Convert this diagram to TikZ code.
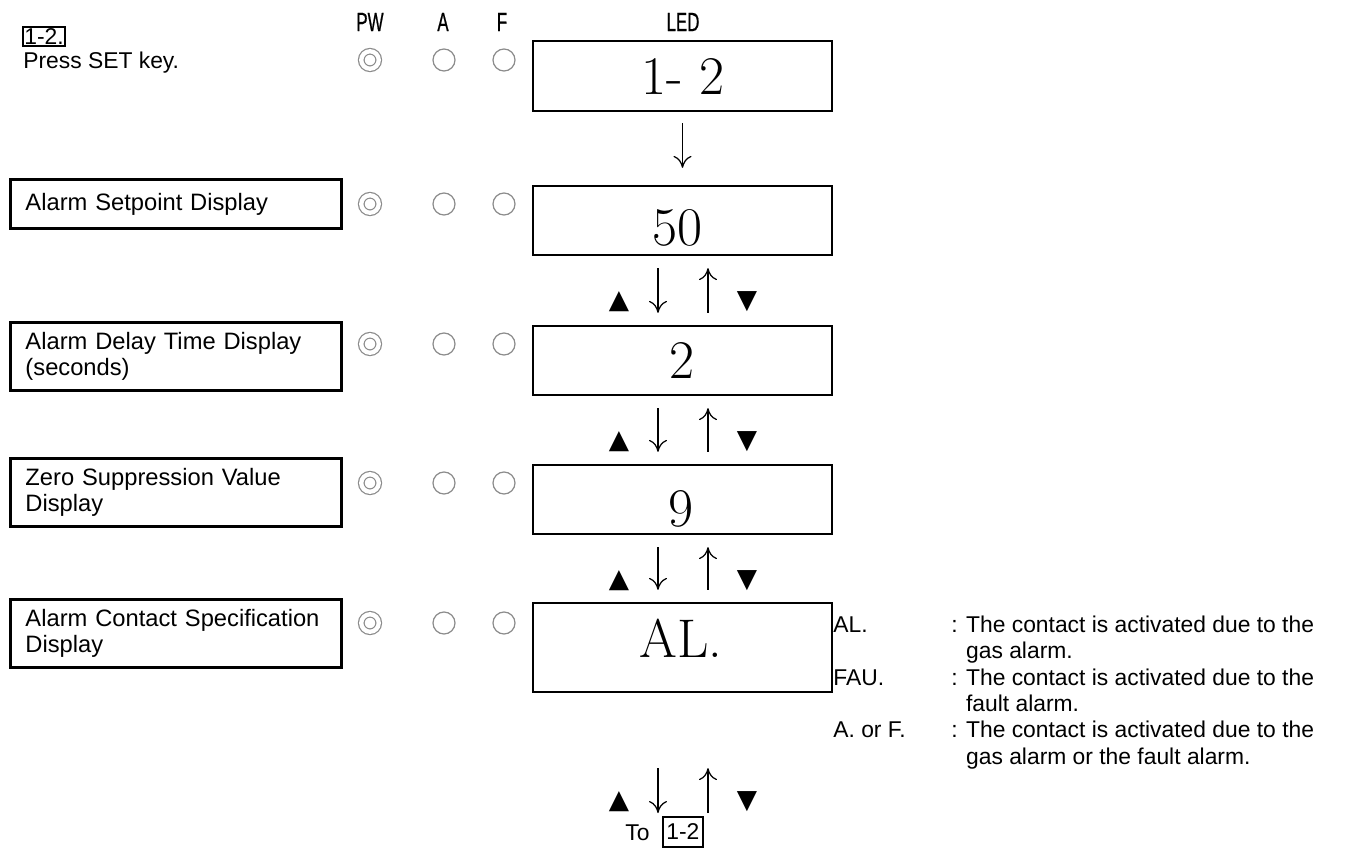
\documentclass[tikz,border=0pt]{standalone}
\usepackage{fontspec}
\newfontfamily\arialfont{Liberation Sans}
\newfontfamily\gothfont[FakeStretch=0.64, FakeBold=0.6]{Liberation Sans}
\newfontfamily\symfont{DejaVu Sans}
\usepackage{tikz}
\usetikzlibrary{positioning,arrows.meta}

\begin{document}
\begin{tikzpicture}[x=0.02cm, y=-0.02cm,
    desc/.style={draw, line width=0.06cm, anchor=north west, text width=6.02cm, inner xsep=0.3cm, inner ysep=0.19cm, align=left, minimum height=1.36cm, font=\arialfont\fontsize{13.5}{15}\selectfont},
    ledbox/.style={draw, line width=0.045cm, minimum width=5.98cm, minimum height=1.38cm, inner sep=0pt},
    digits/.style={font=\fontsize{31}{36}\selectfont, inner sep=0pt},
    lamp/.style={circle, draw=gray!90, line width=0.025cm, minimum size=0.44cm, inner sep=0pt},
    lampon/.style={circle, draw=gray!90, line width=0.024cm, double=white, double distance=0.086cm, minimum size=0.35cm, inner sep=0pt},
    head/.style={font=\gothfont\fontsize{15}{16}\selectfont, inner sep=0pt},
    txt/.style={font=\arialfont\fontsize{13}{15}\selectfont, inner sep=0pt},
    keybox/.style={draw, line width=0.035cm, font=\arialfont\fontsize{13}{15}\selectfont},
    key/.style={font=\symfont\fontsize{15}{15}\selectfont, inner sep=0pt},
    flow/.style={line width=0.025cm, -{Computer Modern Rightarrow[length=0.24cm, width=0.36cm]}, shorten <=0.24cm, shorten >=0.24cm}]
    \useasboundingbox (0,0) rectangle (1347,849);

    % Step title
    \node[keybox, inner xsep=0.03cm, inner ysep=0.03cm, anchor=north west] (stepno) at (22,26) {1-2.};
    \node[txt, anchor=base west] (press) at (23,68) {Press SET key.};

    % Column heads
    \node[head] (pwhead) at (370,22) {PW};
    \node[head] (ahead) at (443,22) {A};
    \node[head] (fhead) at (502,22) {F};
    \node[head] (ledhead) at (683,22) {LED};

    % Lamps
    \node[lampon] (pw1) at (370,60) {}; \node[lamp] (a1) at (444,60) {}; \node[lamp] (f1) at (504,60) {};
    \node[lampon] (pw2) at (370,204) {}; \node[lamp] (a2) at (444,204) {}; \node[lamp] (f2) at (504,204) {};
    \node[lampon] (pw3) at (370,344) {}; \node[lamp] (a3) at (444,344) {}; \node[lamp] (f3) at (504,344) {};
    \node[lampon] (pw4) at (370,483) {}; \node[lamp] (a4) at (444,483) {}; \node[lamp] (f4) at (504,483) {};
    \node[lampon] (pw5) at (370,623) {}; \node[lamp] (a5) at (444,623) {}; \node[lamp] (f5) at (504,623) {};

    % Descriptions
    \node[desc, minimum height=0.98cm] (setpoint) at (9,178) {Alarm Setpoint Display};
    \node[desc] (delay) at (9,321) {Alarm Delay Time Display\\(seconds)};
    \node[desc] (zero) at (9,457) {Zero Suppression Value\\Display};
    \node[desc] (contact) at (9,598) {Alarm Contact Specification\\Display};

    % LED display
    \node[ledbox, minimum height=1.4cm] (led1) at (682.5,76) {};
    \node[ledbox] (led2) at (682.5,220.5) {};
    \node[ledbox] (led3) at (682.5,360.5) {};
    \node[ledbox] (led4) at (682.5,499.5) {};
    \node[ledbox, minimum height=1.78cm] (led5) at (682.5,647.5) {};
    \node[digits] (val1) at (683,76) {1- 2};
    \node[digits] (val2) at (677,228) {50};
    \node[digits] (val3) at (682,360) {2};
    \node[digits] (val4) at (681,509) {9};
    \node[digits] (val5) at (681,638) {AL.};

    % Contact options
    \node[txt, anchor=north west] (alnote) at (833,613.5) {\begin{tabular}{@{}p{2.36cm}@{}l@{}}
        AL. & : The contact is activated due to the\\
            & \phantom{: }gas alarm.\\
        FAU. & : The contact is activated due to the\\
            & \phantom{: }fault alarm.\\
        A. or F. & : The contact is activated due to the\\
            & \phantom{: }gas alarm or the fault alarm.
    \end{tabular}};

    % Return
    \node[txt, anchor=base west] (to) at (625,840) {To};
    \node[keybox, inner xsep=0.07cm, inner ysep=0.14cm, anchor=north west] (back) at (662,816) {1-2};
    \coordinate (ret) at (682.5,813);

    % Keys
    \node[key] (up2) at (619,302) {▲}; \node[key] (dn2) at (747,302) {▼};
    \node[key] (up3) at (619,442) {▲}; \node[key] (dn3) at (747,442) {▼};
    \node[key] (up4) at (619,581) {▲}; \node[key] (dn4) at (747,581) {▼};
    \node[key] (up5) at (619,802) {▲}; \node[key] (dn5) at (747,802) {▼};

    % Arrows
    \draw[flow, shorten <=0.22cm, shorten >=0.34cm] (led1) -- (led2);
    \draw[flow] ([xshift=-0.49cm]led2.south) -- ([xshift=-0.49cm]led3.north);
    \draw[flow] ([xshift=0.51cm]led3.north) -- ([xshift=0.51cm]led2.south);
    \draw[flow] ([xshift=-0.49cm]led3.south) -- ([xshift=-0.49cm]led4.north);
    \draw[flow] ([xshift=0.51cm]led4.north) -- ([xshift=0.51cm]led3.south);
    \draw[flow] ([xshift=-0.49cm]led4.south) -- ([xshift=-0.49cm]led5.north);
    \draw[flow] ([xshift=0.51cm]led5.north) -- ([xshift=0.51cm]led4.south);
    \draw[flow, shorten <=1.5cm, shorten >=0pt] ([xshift=-0.49cm]led5.south) -- ([xshift=-0.49cm]ret);
    \draw[flow, shorten <=0pt, shorten >=1.5cm] ([xshift=0.51cm]ret) -- ([xshift=0.51cm]led5.south);
\end{tikzpicture}
\end{document}
